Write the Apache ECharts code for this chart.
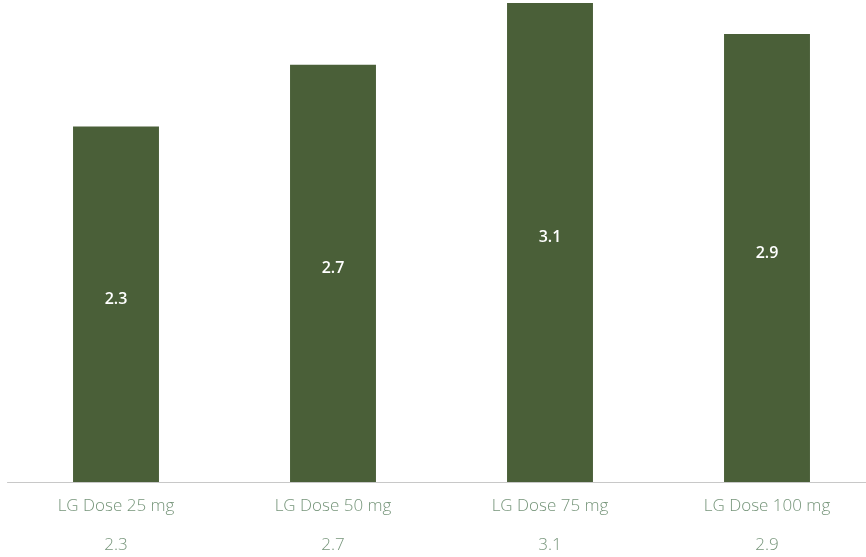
<!DOCTYPE html>
<html>
<head>
<meta charset="utf-8">
<script src="https://cdn.jsdelivr.net/npm/echarts@6/dist/echarts.min.js"></script>
<style>html,body{margin:0;padding:0;background:#fff}#c{width:866px;height:557px}</style>
</head>
<body>
<div id="c"></div>
<script>
const categories = ["LG Dose 25 mg", "LG Dose 50 mg", "LG Dose 75 mg", "LG Dose 100 mg"];
const values = [2.3, 2.7, 3.1, 2.9];

const chart = echarts.init(document.getElementById('c'), null, {renderer: 'canvas'});
chart.setOption({
  animation: false,
  grid: {left: 7.5, top: 3, width: 868, bottom: 75, containLabel: false, outerBoundsMode: 'none'},
  xAxis: {
    type: 'category',
    data: categories,
    axisLine: {lineStyle: {color: '#c8c8c8', width: 1}},
    axisTick: {show: false},
    axisLabel: {
      interval: 0,
      margin: 5,
      formatter: function (v, i) { return '{a|' + v + '}\n{b|' + values[i] + '}'; },
      rich: {
        a: {fontFamily: 'Open Sans', fontSize: 17, color: '#76957a', height: 39, fontWeight: 300},
        b: {fontFamily: 'Open Sans', fontSize: 17, color: '#76957a', height: 39, fontWeight: 300}
      }
    }
  },
  yAxis: {type: 'value', min: 0, max: 3.1, show: false, splitLine: {show: false}},
  series: [{
    type: 'bar',
    data: values,
    barWidth: '39.6%',
    itemStyle: {color: '#4a5f38'},
    label: {
      show: true,
      position: 'inside',
      color: '#ffffff',
      fontFamily: 'Open Sans',
      fontSize: 16,
      fontWeight: 600,
      offset: [0, -5]
    }
  }]
});
</script>
</body>
</html>
